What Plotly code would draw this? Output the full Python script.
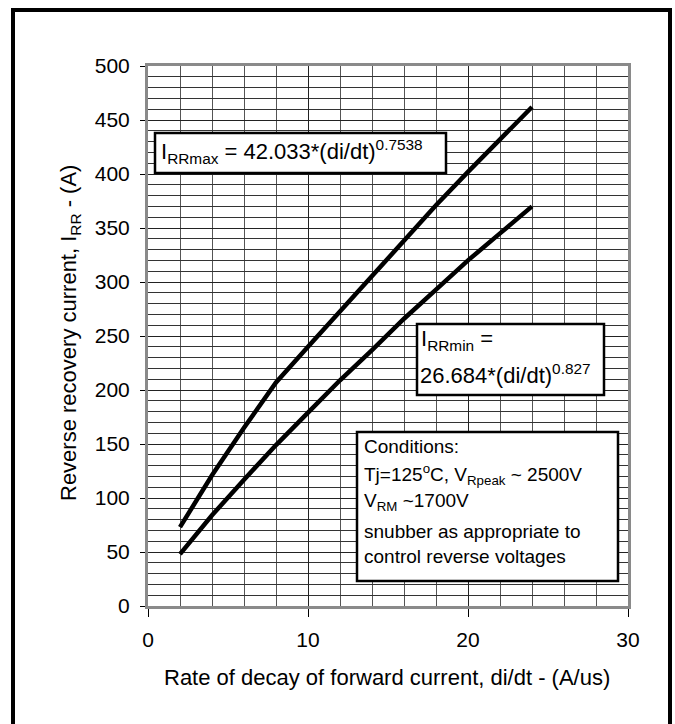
import plotly.graph_objects as go

# ---- data ----
di_dt = [2, 4, 6, 8, 10, 12, 14, 16, 18, 20, 22, 24]
irr_max = [73, 121, 165, 207, 240, 273, 305, 339, 371, 402, 432, 462]
irr_min = [48, 84, 117, 149, 179, 209, 237, 266, 293, 320, 345, 370]

x_ticks = [0, 10, 20, 30]
y_ticks = [0, 50, 100, 150, 200, 250, 300, 350, 400, 450, 500]

x_title = "Rate of decay of forward current, di/dt - (A/us)"
y_title = "Reverse recovery current, I<sub>RR</sub> - (A)"
max_label = "I<sub>RRmax</sub> = 42.033*(di/dt)<sup>0.7538</sup>"
min_label_1 = "I<sub>RRmin</sub> ="
min_label_2 = "26.684*(di/dt)<sup>0.827</sup>"
cond_lines = [
    "Conditions:",
    "Tj=125<sup>o</sup>C, V<sub>Rpeak</sub> ~ 2500V",
    "V<sub>RM</sub> ~1700V",
    "snubber as appropriate to",
    "control reverse voltages",
]

# ---- layout geometry (pixels) ----
W, H = 675, 724
L, R, T, B = 148, 628, 66, 606
FONT = "Liberation Sans, Arial, sans-serif"


def px(x):
    return (x - L) / (R - L)


def py(y):
    return (B - y) / (B - T)


fig = go.Figure()
fig.add_trace(go.Scatter(x=di_dt, y=irr_max, mode="lines",
                         line=dict(color="black", width=4.5), showlegend=False))
fig.add_trace(go.Scatter(x=di_dt, y=irr_min, mode="lines",
                         line=dict(color="black", width=4.5), showlegend=False))

axis_common = dict(
    showline=True, linecolor="#8a8a8a", linewidth=3, mirror=True,
    ticks="outside", tickcolor="black", tickwidth=1,
    showgrid=True, gridcolor="#222222", gridwidth=1,
    zeroline=False,
    tickfont=dict(family=FONT, size=21, color="black"),
)

fig.update_xaxes(range=[0, 30], tickvals=x_ticks, ticklen=8,
                 minor=dict(dtick=2, showgrid=True, gridcolor="#555555", gridwidth=1),
                 ticklabelstandoff=5, **axis_common)
fig.update_yaxes(range=[0, 500], tickvals=y_ticks, ticklen=5,
                 minor=dict(dtick=10, showgrid=True, gridcolor="#333333", gridwidth=1),
                 ticklabelstandoff=6, **axis_common)

shapes = [
    # outer frame
    dict(type="rect", xref="paper", yref="paper", x0=px(13), x1=px(670),
         y0=py(745), y1=py(10), line=dict(color="black", width=4), fillcolor="rgba(0,0,0,0)",
         layer="above"),
    # formula box (max)
    dict(type="rect", xref="paper", yref="paper", x0=px(155), x1=px(446),
         y0=py(173), y1=py(133), line=dict(color="black", width=2.5), fillcolor="white",
         layer="above"),
    # formula box (min)
    dict(type="rect", xref="paper", yref="paper", x0=px(417), x1=px(604),
         y0=py(395), y1=py(324), line=dict(color="black", width=2.5), fillcolor="white",
         layer="above"),
    # conditions box
    dict(type="rect", xref="paper", yref="paper", x0=px(357), x1=px(618),
         y0=py(581), y1=py(432), line=dict(color="black", width=2.5), fillcolor="white",
         layer="above"),
]

annotations = []


def add_text(text, x, y, size, xanchor="left", yanchor="middle", angle=0):
    annotations.append(dict(text=text, xref="paper", yref="paper", x=px(x), y=py(y),
                            xanchor=xanchor, yanchor=yanchor, showarrow=False,
                            textangle=angle,
                            font=dict(family=FONT, size=size, color="black")))


add_text(max_label, 159, 152, 22)
add_text(min_label_1, 419, 340, 22)
add_text(min_label_2, 418, 374, 22)
cond_y = [446, 474, 502, 531, 556]
for t, yy in zip(cond_lines, cond_y):
    add_text(t, 362, yy, 19)

add_text(x_title, 387, 677, 22, xanchor="center")
add_text(y_title, 70, 333, 22, xanchor="center", angle=-90)

fig.update_layout(
    width=W, height=H,
    margin=dict(l=L, r=W - R, t=T, b=H - B, pad=0),
    paper_bgcolor="white", plot_bgcolor="white",
    shapes=shapes, annotations=annotations,
    showlegend=False,
)

fig.write_html("out.html")
